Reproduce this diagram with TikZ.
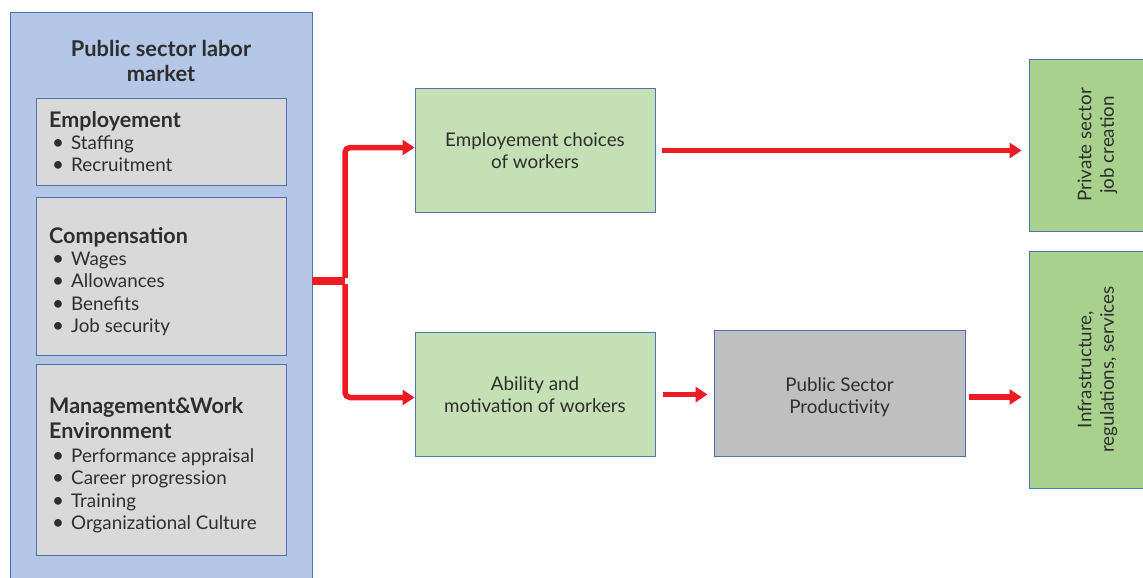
\documentclass[tikz,border=0pt]{standalone}
\usepackage{fontspec}
\setmainfont{Lato}
\usetikzlibrary{arrows.meta}
\definecolor{panelblue}{HTML}{B4C7E7}
\definecolor{edgeblue}{HTML}{4F72B0}
\definecolor{lightgray}{HTML}{D9D9D9}
\definecolor{midgray}{HTML}{BFBFBF}
\definecolor{palegreen}{HTML}{C5E0B4}
\definecolor{leafgreen}{HTML}{A9D18E}
\definecolor{flowred}{HTML}{ED1C24}
\definecolor{ink}{HTML}{2E2E2E}
% bullet line: dot indented under the heading, text on a fixed tab
\newcommand\bul[1]{\hspace*{3pt}\makebox[19pt][l]{\scalebox{1.1}{\textbullet}}#1}
\newcommand\hd[1]{{\fontsize{21.5}{24}\selectfont\bfseries #1}}
\newcommand\vlabel[2]{\rotatebox{90}{\begin{tabular}{@{}c@{}}#1\\#2\end{tabular}}}
\begin{document}
\begin{tikzpicture}[x=1pt,y=-1pt,
  every node/.style={text=ink, inner sep=0pt},
  box/.style={draw=edgeblue, line width=0.9pt, inner sep=0pt},
  body/.style={font=\fontsize{18.8}{22.5}\selectfont},
  list/.style={body, align=left, anchor=north west},
  flow/.style={draw=flowred, line width=5.5pt},
  arr/.style={flow, -{Triangle[length=12pt,width=15pt]}}]
\useasboundingbox (0,0) rectangle (1143,578);
\clip (0,0) rectangle (1143,578);
\fill[white] (0,0) rectangle (1143,578);

% left panel: public sector labour market
\node[box, fill=panelblue, minimum width=302, minimum height=580] (market) at (161,302) {};
\node[align=center, font=\fontsize{21.8}{25.5}\selectfont\bfseries] (title) at (161,61)
  {Public sector labor\\market};

\node[box, fill=lightgray, minimum width=250, minimum height=87] (emp) at (161,141.5) {};
\node[list] (emptext) at (49,111)
  {\hd{Employement}\\[-0.5pt]\bul{Staffing}\\\bul{Recruitment}};

\node[box, fill=lightgray, minimum width=250, minimum height=158] (comp) at (161,276) {};
\node[list] (comptext) at (49,227)
  {\hd{Compensation}\\[-0.5pt]\bul{Wages}\\\bul{Allowances}\\\bul{Benefits}\\\bul{Job security}};

\node[box, fill=lightgray, minimum width=250, minimum height=191] (mgmt) at (161,459.5) {};
\node[list] (mgmttext) at (49,397)
  {\hd{Management\&Work}\\[2.5pt]\hd{Environment}\\[1.5pt]\bul{Performance appraisal}\\\bul{Career progression}\\\bul{Training}\\\bul{Organizational Culture}};

% middle column
\node[box, fill=palegreen, minimum width=240, minimum height=124, body, align=center] (choice) at (535,150.5)
  {Employement choices\\of workers};
\node[box, fill=palegreen, minimum width=240, minimum height=124, body, align=center] (ability) at (535,394.5)
  {Ability and\\motivation of workers};
\node[box, fill=midgray, minimum width=251, minimum height=126] (prod) at (839.5,393) {};
\node[body, align=center] (prodtext) at ([yshift=-4pt]prod.center)
  {Public Sector\\Productivity};

% outcomes on the right
\node[box, fill=leafgreen, minimum width=138, minimum height=172, body] (private) at (1098,145)
  {\vlabel{Private sector}{job creation}};
\node[box, fill=leafgreen, minimum width=138, minimum height=237, body] (infra) at (1098,369.5)
  {\vlabel{Infrastructure,}{regulations, services}};

% connectors
\coordinate (split) at (345,281);
\draw[flow, line width=7.5pt] (market.east |- split) -- (split);
\draw[arr, rounded corners=5pt] ([yshift=3pt]split) |- ([yshift=3pt]choice.west);
\draw[arr, rounded corners=5pt] ([yshift=-3pt]split) |- ([yshift=-3pt]ability.west);
\draw[arr, shorten <=7pt, shorten >=7pt] (choice.east) -- (choice.east -| private.west);
\draw[arr, shorten <=8pt, shorten >=6pt] (ability.east) -- (ability.east -| prod.west);
\draw[arr, shorten <=4pt, shorten >=7pt] ([yshift=-4pt]prod.east) -- ([yshift=-4pt]prod.east -| infra.west);
\end{tikzpicture}
\end{document}
